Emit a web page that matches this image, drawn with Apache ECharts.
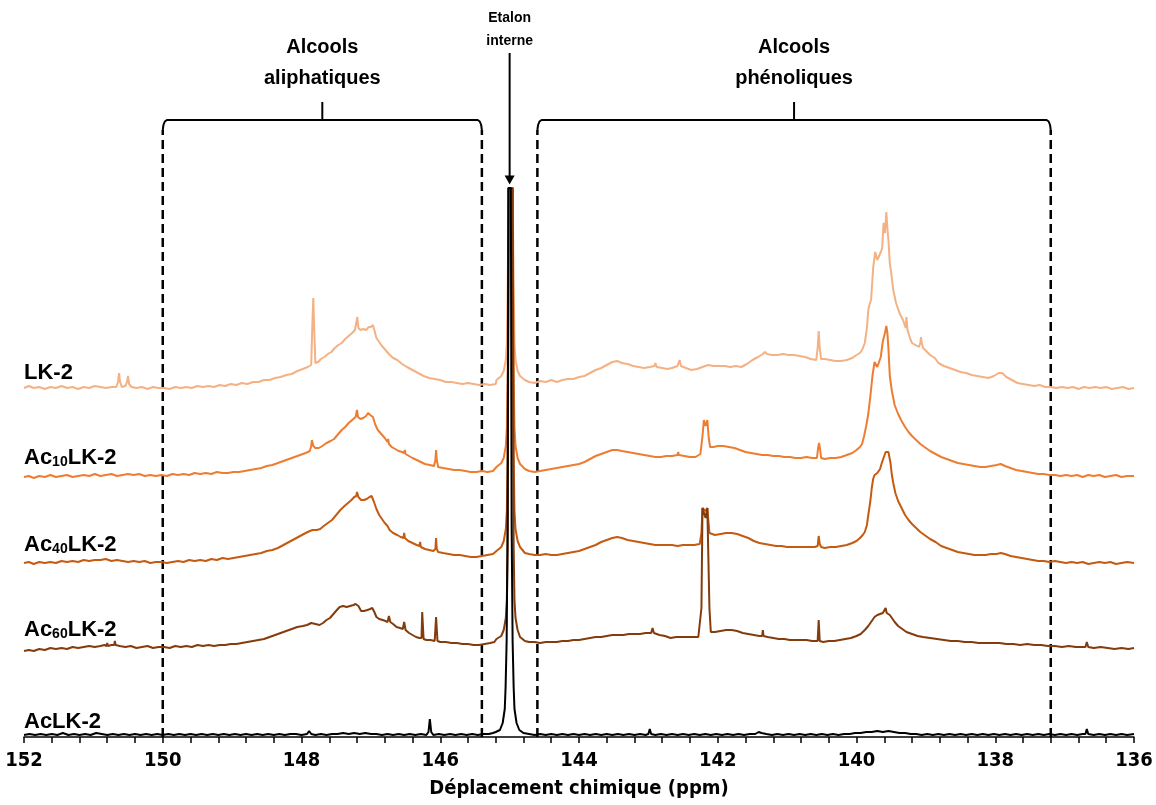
<!DOCTYPE html>
<html><head><meta charset="utf-8">
<script src="https://cdn.jsdelivr.net/npm/echarts@6/dist/echarts.min.js"></script>
<style>html,body{margin:0;padding:0;background:#fff}#c{width:1156px;height:805px}</style>
</head><body><div id="c"></div>
<script>
// ---- data (ppm, intensity above each trace's own baseline) ----
const names = ['LK-2', 'Ac10LK-2', 'Ac40LK-2', 'Ac60LK-2', 'AcLK-2'];
const offsets = [349, 261, 174, 89, 0];
const colors = ['#F4B183', '#ED7D31', '#C55A11', '#843C0C', '#000000'];

const LK2 = [[152.00,0],[151.93,2],[151.86,0],[151.78,1],[151.70,-1],[151.62,1],[151.54,0],[151.46,2],[151.38,0],[151.30,1],[151.22,-1],[151.14,1],[151.06,0],[150.98,2],[150.90,1],[150.82,0],[150.74,1],[150.67,1],[150.645,6],[150.63,15],[150.615,6],[150.59,1],[150.54,2],[150.515,6],[150.50,12],[150.485,4],[150.45,1],[150.38,0],[150.30,1],[150.22,-1],[150.14,1],[150.06,0],[149.98,0],[149.90,-1],[149.82,1],[149.74,0],[149.66,1],[149.58,0],[149.50,2],[149.42,1],[149.34,2],[149.26,1],[149.18,3],[149.10,2],[149.02,4],[148.94,3],[148.86,5],[148.78,4],[148.70,6],[148.62,6],[148.54,8],[148.46,8],[148.38,10],[148.30,11],[148.22,13],[148.14,14],[148.06,17],[147.98,19],[147.91,21],[147.86,23],[147.845,60],[147.83,90],[147.815,55],[147.80,25],[147.76,26],[147.72,29],[147.67,31],[147.62,34],[147.57,36],[147.52,40],[147.47,43],[147.42,45],[147.37,49],[147.32,52],[147.27,55],[147.23,58],[147.21,60],[147.195,71],[147.18,60],[147.15,58],[147.11,59],[147.07,58],[147.03,61],[147.00,61],[146.97,63],[146.95,58],[146.92,50],[146.88,46],[146.84,42],[146.79,38],[146.74,34],[146.68,30],[146.62,28],[146.55,24],[146.48,21],[146.40,18],[146.32,15],[146.24,12],[146.16,10],[146.08,9],[146.00,8],[145.92,6],[145.84,6],[145.76,5],[145.68,4],[145.60,5],[145.52,4],[145.44,3],[145.36,4],[145.28,3],[145.20,4],
[145.19,8],[145.12,12],[145.085,17],[145.055,28],[145.04,45],[145.028,98],[145.014,200],[144.956,200],[144.942,98],[144.93,45],[144.915,28],[144.885,17],[144.85,12],[144.78,8],
[144.72,6],[144.64,5],[144.56,7],[144.48,6],[144.40,8],[144.32,6],[144.24,8],[144.16,9],[144.08,9],[144.00,11],[143.92,12],[143.84,15],[143.76,18],[143.68,20],[143.60,23],[143.52,26],[143.45,27],[143.38,25],[143.30,24],[143.22,22],[143.14,21],[143.06,20],[142.98,21],[142.91,22],[142.90,25],[142.88,21],[142.80,20],[142.73,19],[142.66,20],[142.58,22],[142.55,28],[142.53,22],[142.46,20],[142.38,18],[142.30,19],[142.22,21],[142.14,23],[142.06,22],[141.98,22],[141.90,22],[141.82,21],[141.74,22],[141.66,21],[141.58,24],[141.50,28],[141.42,31],[141.35,34],[141.32,36],[141.29,34],[141.22,33],[141.14,33],[141.06,34],[140.98,33],[140.90,33],[140.82,32],[140.74,31],[140.66,29],[140.58,28],[140.56,40],[140.545,57],[140.53,40],[140.51,29],[140.46,29],[140.38,28],[140.30,27],[140.22,27],[140.14,28],[140.06,30],[140.00,33],[139.95,35],[139.92,38],[139.88,45],[139.85,60],[139.83,78],[139.81,84],[139.79,88],[139.76,120],[139.73,136],[139.70,128],[139.68,130],[139.65,136],[139.63,140],[139.61,165],[139.59,155],[139.57,176],[139.555,160],[139.54,148],[139.52,125],[139.50,115],[139.47,98],[139.43,85],[139.38,75],[139.33,68],[139.29,60],[139.28,71],[139.265,58],[139.23,50],[139.20,45],[139.15,43],[139.10,41],[139.08,45],[139.07,51],[139.06,45],[139.04,40],[139.01,38],[138.94,33],[138.87,30],[138.82,25],[138.74,22],[138.66,20],[138.58,18],[138.50,16],[138.42,15],[138.34,13],[138.26,12],[138.18,11],[138.10,10],[138.02,12],[137.95,15],[137.90,15],[137.84,11],[137.76,8],[137.68,5],[137.60,4],[137.52,3],[137.44,2],[137.36,3],[137.28,1],[137.20,1],[137.12,0],[137.04,1],[136.96,0],[136.88,1],[136.80,-1],[136.72,1],[136.64,0],[136.56,1],[136.48,0],[136.40,1],[136.32,-1],[136.24,0],[136.16,1],[136.08,-1],[136.00,0]];

const AC10 = [[152.00,-1],[151.93,0],[151.86,-2],[151.78,0],[151.70,-1],[151.62,1],[151.54,-1],[151.46,0],[151.38,1],[151.30,-1],[151.22,0],[151.14,1],[151.06,0],[150.98,2],[150.90,0],[150.82,1],[150.74,2],[150.66,0],[150.58,1],[150.50,2],[150.42,1],[150.34,2],[150.26,0],[150.18,1],[150.10,0],[150.02,1],[149.94,0],[149.86,2],[149.78,1],[149.70,2],[149.62,1],[149.54,3],[149.46,2],[149.38,3],[149.30,2],[149.22,4],[149.14,3],[149.06,3],[148.98,4],[148.90,4],[148.82,5],[148.74,6],[148.66,7],[148.58,8],[148.50,10],[148.42,11],[148.34,13],[148.26,15],[148.18,17],[148.10,19],[148.02,21],[147.94,23],[147.88,25],[147.86,30],[147.85,36],[147.83,30],[147.80,28],[147.75,28],[147.70,30],[147.64,33],[147.58,35],[147.53,37],[147.47,42],[147.42,46],[147.37,49],[147.32,53],[147.27,56],[147.22,59],[147.20,66],[147.185,59],[147.15,57],[147.11,58],[147.07,60],[147.04,63],[147.01,61],[146.97,59],[146.94,52],[146.90,46],[146.85,42],[146.80,38],[146.76,34],[146.75,37],[146.74,32],[146.70,29],[146.65,27],[146.60,25],[146.55,24],[146.52,23],[146.51,26],[146.50,22],[146.45,20],[146.40,18],[146.34,16],[146.28,14],[146.22,12],[146.15,11],[146.09,10],[146.07,16],[146.06,26],[146.05,16],[146.03,9],[145.96,8],[145.88,7],[145.80,6],[145.72,6],[145.64,5],[145.56,4],[145.48,4],[145.40,5],[145.32,4],[145.24,5],
[145.19,9],[145.12,13],[145.085,18],[145.055,30],[145.04,48],[145.028,100],[145.014,288],[144.956,288],[144.942,100],[144.93,48],[144.915,30],[144.885,18],[144.85,12],[144.78,7],
[144.72,5],[144.64,4],[144.56,5],[144.48,6],[144.40,7],[144.32,8],[144.24,9],[144.16,10],[144.08,11],[144.00,12],[143.92,14],[143.84,17],[143.76,20],[143.68,22],[143.60,24],[143.52,26],[143.45,26],[143.38,25],[143.30,24],[143.22,23],[143.14,22],[143.06,21],[142.98,20],[142.90,19],[142.82,19],[142.74,20],[142.66,20],[142.58,21],[142.57,24],[142.56,21],[142.48,20],[142.40,19],[142.32,19],[142.25,22],[142.22,40],[142.20,56],[142.175,50],[142.15,56],[142.13,38],[142.11,29],[142.06,29],[142.00,30],[141.92,30],[141.84,29],[141.76,28],[141.68,26],[141.60,24],[141.52,23],[141.44,22],[141.36,21],[141.28,21],[141.20,20],[141.12,20],[141.04,19],[140.96,19],[140.88,18],[140.80,18],[140.72,19],[140.64,18],[140.57,18],[140.555,27],[140.54,33],[140.525,27],[140.51,18],[140.46,17],[140.38,18],[140.30,18],[140.22,19],[140.14,21],[140.06,23],[140.00,26],[139.95,29],[139.92,32],[139.89,40],[139.86,50],[139.83,62],[139.80,80],[139.77,100],[139.74,114],[139.72,116],[139.70,109],[139.67,115],[139.65,119],[139.62,135],[139.59,143],[139.57,150],[139.555,143],[139.54,128],[139.52,100],[139.49,85],[139.45,71],[139.40,62],[139.35,55],[139.30,49],[139.25,44],[139.20,40],[139.14,36],[139.08,32],[139.02,29],[138.94,25],[138.86,22],[138.78,19],[138.70,17],[138.62,15],[138.54,13],[138.46,12],[138.38,11],[138.30,10],[138.22,9],[138.14,9],[138.06,10],[137.98,11],[137.92,12],[137.86,10],[137.78,8],[137.70,6],[137.62,5],[137.54,4],[137.46,3],[137.38,2],[137.30,2],[137.22,1],[137.14,1],[137.06,0],[136.98,1],[136.90,0],[136.82,1],[136.74,-1],[136.66,1],[136.58,0],[136.50,1],[136.42,-1],[136.34,0],[136.26,1],[136.18,-1],[136.10,0],[136.00,0]];

const AC40 = [[152.00,0],[151.93,1],[151.86,-1],[151.78,1],[151.70,0],[151.62,1],[151.54,0],[151.46,2],[151.38,1],[151.30,2],[151.22,1],[151.14,3],[151.06,2],[150.98,3],[150.90,3],[150.82,4],[150.74,2],[150.66,3],[150.58,2],[150.50,1],[150.42,2],[150.34,1],[150.26,2],[150.18,0],[150.10,1],[150.02,1],[149.94,0],[149.86,1],[149.78,2],[149.70,1],[149.62,3],[149.54,2],[149.46,3],[149.38,2],[149.30,4],[149.22,3],[149.14,5],[149.06,4],[148.98,5],[148.90,6],[148.82,7],[148.74,8],[148.66,9],[148.58,10],[148.50,12],[148.42,13],[148.34,15],[148.26,18],[148.18,21],[148.10,24],[148.02,27],[147.94,30],[147.88,32],[147.84,33],[147.78,33],[147.73,34],[147.68,37],[147.62,40],[147.56,43],[147.50,48],[147.44,53],[147.38,57],[147.33,60],[147.28,63],[147.24,66],[147.21,67],[147.20,71],[147.18,66],[147.14,63],[147.10,63],[147.06,64],[147.02,66],[146.99,67],[146.96,62],[146.92,54],[146.88,48],[146.84,44],[146.80,40],[146.76,37],[146.75,39],[146.73,33],[146.68,30],[146.62,28],[146.57,26],[146.53,25],[146.52,30],[146.51,25],[146.46,22],[146.40,20],[146.34,18],[146.30,17],[146.29,21],[146.28,16],[146.22,14],[146.16,13],[146.10,12],[146.07,14],[146.06,25],[146.05,14],[146.03,11],[145.96,10],[145.88,9],[145.80,8],[145.72,8],[145.64,7],[145.56,6],[145.48,6],[145.40,7],[145.32,8],[145.24,9],
[145.19,12],[145.12,16],[145.085,22],[145.055,34],[145.04,52],[145.028,105],[145.014,375],[144.956,375],[144.942,105],[144.93,52],[144.915,34],[144.885,22],[144.85,16],[144.78,10],
[144.72,9],[144.64,8],[144.56,8],[144.48,9],[144.40,8],[144.32,8],[144.24,9],[144.16,10],[144.08,11],[144.00,12],[143.92,14],[143.84,16],[143.76,18],[143.68,21],[143.60,23],[143.52,25],[143.45,26],[143.38,25],[143.30,23],[143.22,22],[143.14,21],[143.06,20],[142.98,19],[142.90,18],[142.82,18],[142.74,18],[142.66,18],[142.58,17],[142.50,18],[142.42,18],[142.34,18],[142.26,19],[142.235,30],[142.22,55],[142.20,55],[142.175,52],[142.15,55],[142.135,55],[142.12,30],[142.10,28],[142.04,28],[141.96,29],[141.88,30],[141.80,30],[141.72,29],[141.64,27],[141.56,25],[141.48,22],[141.40,20],[141.32,19],[141.24,18],[141.16,17],[141.08,17],[141.00,16],[140.92,16],[140.84,16],[140.76,16],[140.68,16],[140.60,16],[140.56,17],[140.545,27],[140.53,19],[140.51,16],[140.46,15],[140.38,16],[140.30,16],[140.22,17],[140.14,18],[140.06,20],[140.00,22],[139.95,25],[139.91,28],[139.88,31],[139.85,38],[139.83,48],[139.80,62],[139.78,75],[139.76,84],[139.74,88],[139.72,87],[139.70,90],[139.68,91],[139.66,94],[139.64,99],[139.62,103],[139.60,107],[139.58,111],[139.56,112],[139.54,111],[139.52,110],[139.51,100],[139.49,88],[139.47,80],[139.44,70],[139.40,62],[139.35,55],[139.30,48],[139.25,43],[139.20,39],[139.14,35],[139.08,31],[139.02,28],[138.94,24],[138.86,21],[138.78,17],[138.70,15],[138.62,13],[138.54,11],[138.46,10],[138.38,9],[138.30,8],[138.22,8],[138.14,8],[138.06,9],[137.98,9],[137.92,10],[137.86,9],[137.78,7],[137.70,6],[137.62,5],[137.54,4],[137.46,3],[137.38,2],[137.30,2],[137.22,1],[137.14,2],[137.06,1],[136.98,0],[136.90,1],[136.82,0],[136.74,1],[136.66,-1],[136.58,0],[136.50,1],[136.42,0],[136.34,1],[136.26,-1],[136.18,0],[136.10,1],[136.00,0]];

const AC60 = [[152.00,-3],[151.93,-2],[151.86,-3],[151.78,-1],[151.70,-2],[151.62,0],[151.54,-1],[151.46,0],[151.38,-1],[151.30,1],[151.22,0],[151.14,1],[151.06,2],[150.98,1],[150.90,2],[150.84,3],[150.81,2],[150.80,5],[150.79,2],[150.74,3],[150.70,3],[150.69,7],[150.68,3],[150.62,2],[150.54,1],[150.46,2],[150.38,0],[150.30,1],[150.22,2],[150.14,0],[150.06,1],[149.98,1],[149.90,0],[149.82,2],[149.74,1],[149.66,2],[149.58,1],[149.50,3],[149.42,2],[149.34,3],[149.26,2],[149.18,3],[149.10,3],[149.02,4],[148.94,4],[148.86,5],[148.78,6],[148.70,7],[148.62,8],[148.54,9],[148.46,11],[148.38,13],[148.30,15],[148.22,17],[148.14,19],[148.06,21],[147.98,22],[147.92,23],[147.86,25],[147.80,24],[147.74,23],[147.69,25],[147.64,28],[147.59,30],[147.54,34],[147.49,38],[147.45,41],[147.40,42],[147.35,41],[147.30,42],[147.25,43],[147.22,44],[147.18,42],[147.14,37],[147.10,37],[147.05,38],[147.01,39],[146.98,40],[146.95,36],[146.92,31],[146.88,29],[146.83,28],[146.79,27],[146.76,26],[146.74,32],[146.72,26],[146.68,24],[146.63,21],[146.58,20],[146.54,19],[146.52,26],[146.50,18],[146.45,15],[146.40,13],[146.35,11],[146.30,10],[146.27,10],[146.26,36],[146.24,9],[146.20,8],[146.14,8],[146.08,7],[146.06,31],[146.04,7],[146.00,6],[145.92,6],[145.84,5],[145.76,5],[145.68,4],[145.60,4],[145.52,3],[145.44,3],[145.36,4],[145.28,5],[145.22,6],
[145.19,9],[145.12,12],[145.085,18],[145.055,30],[145.04,48],[145.028,100],[145.014,460],[144.956,460],[144.942,100],[144.93,48],[144.915,30],[144.885,18],[144.85,11],[144.78,7],
[144.72,6],[144.64,6],[144.56,5],[144.48,6],[144.40,6],[144.32,6],[144.24,7],[144.16,7],[144.08,8],[144.00,8],[143.92,9],[143.84,10],[143.76,11],[143.68,11],[143.60,12],[143.52,13],[143.44,13],[143.36,13],[143.28,14],[143.20,14],[143.12,14],[143.04,15],[142.96,15],[142.94,20],[142.92,15],[142.84,13],[142.76,12],[142.68,10],[142.60,11],[142.52,11],[142.44,11],[142.36,11],[142.28,11],[142.235,40],[142.22,140],[142.20,140],[142.175,130],[142.15,140],[142.135,140],[142.12,40],[142.10,16],[142.04,16],[141.96,17],[141.88,18],[141.80,18],[141.72,17],[141.64,15],[141.56,14],[141.48,13],[141.40,12],[141.36,12],[141.35,18],[141.34,12],[141.28,11],[141.20,10],[141.12,9],[141.04,9],[140.96,8],[140.88,8],[140.80,8],[140.72,8],[140.64,7],[140.56,7],[140.545,28],[140.53,7],[140.48,6],[140.40,7],[140.32,7],[140.24,8],[140.16,9],[140.08,10],[140.00,12],[139.94,14],[139.88,18],[139.83,22],[139.78,27],[139.74,31],[139.70,33],[139.66,34],[139.62,35],[139.60,36],[139.58,40],[139.565,35],[139.55,36],[139.52,33],[139.49,30],[139.45,26],[139.40,22],[139.34,19],[139.28,16],[139.20,14],[139.12,12],[139.04,11],[138.94,10],[138.84,9],[138.74,8],[138.64,7],[138.54,7],[138.44,6],[138.34,6],[138.24,5],[138.14,5],[138.04,5],[137.94,5],[137.84,4],[137.74,4],[137.64,3],[137.54,4],[137.44,3],[137.34,3],[137.24,2],[137.14,2],[137.04,1],[136.94,2],[136.84,1],[136.74,1],[136.70,1],[136.68,6],[136.66,1],[136.58,0],[136.48,1],[136.38,0],[136.28,-1],[136.18,0],[136.08,-1],[136.00,0]];

const ACLK = [[152.00,2],[151.92,3],[151.84,2],[151.76,3],[151.68,2],[151.60,3],[151.52,2],[151.44,4],[151.36,2],[151.28,3],[151.20,2],[151.12,3],[151.04,2],[150.96,4],[150.88,3],[150.80,2],[150.72,3],[150.64,2],[150.56,3],[150.48,2],[150.40,3],[150.32,2],[150.24,3],[150.16,2],[150.08,3],[150.00,2],[149.92,3],[149.84,2],[149.76,3],[149.68,2],[149.60,3],[149.52,2],[149.44,3],[149.36,2],[149.28,3],[149.20,2],[149.12,3],[149.04,2],[148.96,3],[148.88,2],[148.80,3],[148.72,2],[148.64,3],[148.56,2],[148.48,3],[148.40,2],[148.32,3],[148.24,2],[148.16,3],[148.08,3],[148.00,2],[147.92,3],[147.89,6],[147.86,3],[147.80,2],[147.72,3],[147.64,2],[147.56,3],[147.48,3],[147.40,4],[147.32,3],[147.24,4],[147.16,3],[147.08,4],[147.00,3],[146.92,3],[146.84,2],[146.76,3],[146.68,2],[146.60,3],[146.52,2],[146.44,3],[146.36,2],[146.28,3],[146.20,2],[146.17,5],[146.15,18],[146.13,5],[146.10,2],[146.02,3],[145.94,2],[145.86,3],[145.78,2],[145.70,3],[145.62,2],[145.54,3],[145.46,2],[145.38,3],[145.30,3],[145.24,4],
[145.20,5],[145.14,7],[145.10,14],[145.07,28],[145.058,50],[145.043,96],[145.029,212],[145.018,549],[144.982,549],[144.971,212],[144.957,96],[144.942,50],[144.93,28],[144.90,14],[144.86,7],[144.80,4],
[144.72,3],[144.64,2],[144.56,3],[144.48,2],[144.40,3],[144.32,2],[144.24,3],[144.16,2],[144.08,3],[144.00,2],[143.92,3],[143.84,2],[143.76,3],[143.68,2],[143.60,3],[143.52,2],[143.44,3],[143.36,2],[143.28,3],[143.20,2],[143.12,3],[143.04,2],[143.00,3],[142.98,8],[142.96,3],[142.90,2],[142.82,3],[142.74,2],[142.66,3],[142.58,2],[142.50,3],[142.42,2],[142.34,3],[142.26,2],[142.18,3],[142.10,2],[142.02,3],[141.94,2],[141.86,3],[141.78,2],[141.70,3],[141.62,2],[141.54,3],[141.46,3],[141.41,5],[141.39,7],[141.37,4],[141.30,3],[141.22,2],[141.14,3],[141.06,2],[140.98,3],[140.90,2],[140.82,3],[140.74,2],[140.66,3],[140.58,2],[140.50,3],[140.42,2],[140.34,3],[140.26,2],[140.18,3],[140.10,3],[140.02,4],[139.94,4],[139.86,5],[139.78,5],[139.70,6],[139.62,5],[139.54,6],[139.46,5],[139.38,4],[139.30,4],[139.22,3],[139.14,3],[139.06,2],[138.98,3],[138.90,2],[138.82,3],[138.74,2],[138.66,3],[138.58,2],[138.50,3],[138.42,2],[138.34,3],[138.26,2],[138.18,3],[138.10,2],[138.02,3],[137.94,2],[137.86,3],[137.78,2],[137.70,3],[137.62,2],[137.54,3],[137.46,2],[137.38,3],[137.30,2],[137.22,3],[137.14,2],[137.06,3],[136.98,2],[136.90,3],[136.82,2],[136.74,3],[136.70,3],[136.68,8],[136.66,3],[136.58,2],[136.50,3],[136.42,2],[136.34,3],[136.26,2],[136.18,3],[136.10,2],[136.00,3]];

const spectra = [LK2, AC10, AC40, AC60, ACLK];

// annotation anchors (ppm)
const regionBounds = [[150.0, 145.4], [144.6, 137.2]];
const regionTitles = ['Alcools\naliphatiques', 'Alcools\nphénoliques'];
const refPeakPpm = 145.0;
const refTitle = 'Etalon\ninterne';
const axisTitle = 'Déplacement chimique (ppm)';

// ---- chart ----
const TOP = 737; // y-axis span (units)
const BRACKET_Y = 617, BRACKET_TICK = 635, DASH_TOP = 607;
const boldFont = "'Liberation Sans', Arial, sans-serif";
const narrowFont = "'Liberation Sans Narrow', 'DejaVu Sans Condensed', 'Liberation Sans', sans-serif";

const series = [];
spectra.forEach((arr, i) => {
  series.push({
    type: 'line', name: names[i], showSymbol: false, symbol: 'none', z: 3 + i,
    lineStyle: { color: colors[i], width: 2 }, itemStyle: { color: colors[i] },
    data: arr.map(p => [p[0], p[1] + offsets[i]]), animation: false, silent: true
  });
});

// dashed verticals
regionBounds.flat().forEach(p => {
  series.push({ type: 'line', showSymbol: false, symbol: 'none', silent: true, animation: false, z: 2,
    lineStyle: { color: '#000', width: 2.5, type: [9, 5] }, data: [[p, 0], [p, DASH_TOP]] });
});
// brackets with rounded corners
regionBounds.forEach(([a, b]) => {
  const s = a > b ? 1 : -1;
  series.push({ type: 'line', showSymbol: false, symbol: 'none', silent: true, animation: false, z: 2,
    lineStyle: { color: '#000', width: 2 }, smooth: false,
    data: [[a, DASH_TOP], [a - s * 0.01, 612], [a - s * 0.03, 615.5], [a - s * 0.06, BRACKET_Y],
           [b + s * 0.06, BRACKET_Y], [b + s * 0.03, 615.5], [b + s * 0.01, 612], [b, DASH_TOP]] });
  const mid = (a + b) / 2;
  series.push({ type: 'line', showSymbol: false, symbol: 'none', silent: true, animation: false, z: 2,
    lineStyle: { color: '#000', width: 2 }, data: [[mid, BRACKET_Y], [mid, BRACKET_TICK]] });
});
// arrow to reference peak
series.push({ type: 'line', silent: true, animation: false, z: 10, showSymbol: true,
  lineStyle: { color: '#000', width: 2 }, itemStyle: { color: '#000', opacity: 1 },
  data: [{ value: [refPeakPpm, 684], symbol: 'none' },
         { value: [refPeakPpm, 557], symbol: 'path://M0,0 L10,0 L5,8 Z', symbolSize: [10, 9] }] });

// text labels
const textData = [];
regionBounds.forEach(([a, b], i) => textData.push({ value: [(a + b) / 2, 674], name: regionTitles[i], kind: 'region' }));
textData.push({ value: [refPeakPpm, 707], name: refTitle, kind: 'ref' });
series.push({ type: 'scatter', symbolSize: 0, silent: true, animation: false, itemStyle: { opacity: 1 },
  data: textData.map(d => ({ value: d.value, name: d.name,
    label: d.kind === 'region'
      ? { show: true, position: 'inside', formatter: '{b}', fontFamily: boldFont, fontWeight: 'bold', fontSize: 20, lineHeight: 31, color: '#000' }
      : { show: true, position: 'inside', formatter: '{b}', fontFamily: boldFont, fontWeight: 'bold', fontSize: 14, lineHeight: 23, color: '#000' } })) });

// trace names
function richName(n) {
  const m = n.match(/^Ac(\d+)(.*)$/);
  return m ? `{n|Ac}{s|${m[1]}}{n|${m[2]}}` : `{n|${n}}`;
}
series.push({ type: 'scatter', symbolSize: 0, silent: true, animation: false, itemStyle: { opacity: 1 },
  data: names.map((n, i) => ({ value: [152, offsets[i] + (/^Ac\d/.test(n) ? 21 : 18)], name: n })),
  label: { show: true, position: 'right', distance: 0,
    formatter: p => richName(p.name),
    rich: {
      n: { fontFamily: boldFont, fontWeight: 'bold', fontSize: 22, color: '#000', lineHeight: 28, verticalAlign: 'bottom' },
      s: { fontFamily: boldFont, fontWeight: 'bold', fontSize: 14, color: '#000', lineHeight: 8, verticalAlign: 'bottom' }
    } } });

const chart = echarts.init(document.getElementById('c'), null, { renderer: 'canvas' });
chart.setOption({
  animation: false,
  backgroundColor: '#fff',
  grid: { left: 24, right: 22, top: 0, bottom: 68, containLabel: false },
  xAxis: {
    type: 'value', min: 136, max: 152, inverse: true, interval: 2,
    axisLine: { show: true, onZero: false, lineStyle: { color: '#000', width: 1.5 } },
    axisTick: { show: true, length: 6, lineStyle: { color: '#000', width: 1.5 } },
    minorTick: { show: true, splitNumber: 5, length: 6, lineStyle: { color: '#000', width: 1.5 } },
    splitLine: { show: false },
    axisLabel: { margin: 14, fontFamily: narrowFont, fontWeight: 'bold', fontSize: 20, color: '#000' },
    name: axisTitle, nameLocation: 'middle', nameGap: 42,
    nameTextStyle: { fontFamily: narrowFont, fontWeight: 'bold', fontSize: 20, color: '#000' }
  },
  yAxis: { type: 'value', min: 0, max: TOP, show: false },
  series
});
</script>
</body></html>
